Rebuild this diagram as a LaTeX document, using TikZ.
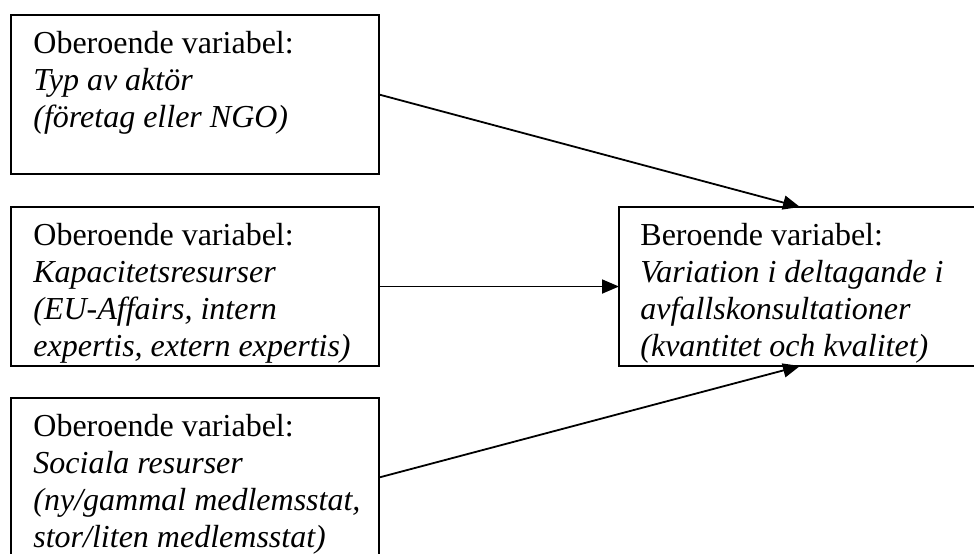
\documentclass[tikz,border=0pt]{standalone}
\usepackage{fontspec}
\setmainfont{Liberation Serif}
\usetikzlibrary{positioning, arrows.meta}

\begin{document}
\begin{tikzpicture}[
        x=0.5pt, y=-0.5pt,
        V/.style = {draw, black, line width=1pt, minimum width=184pt, minimum height=79.5pt, inner sep=0pt, outer sep=0pt},
        T/.style = {anchor=base west, align=left, inner sep=0pt, font=\fontsize{16}{18.5}\selectfont},
        arrow/.style = {-{Triangle[length=8.5pt, width=7pt]}, line width=0.9pt}
    ]
        \useasboundingbox (0,0) rectangle (974,553);
        \clip (0,0) rectangle (974,553);
        \node[V, anchor=north west] (V1) at (11,15) {};
        \node[V, below=16.5pt of V1] (V2) {};
        \node[V, below=16pt of V2] (V3) {};
        \node[V, minimum width=181pt, right=120pt of V2] (B) {};
        % base anchor sits on the last line
        \node[T] (T1) at ([shift={(22,112)}]V1.north west) {Oberoende variabel:\\ \textit{Typ av aktör}\\ \textit{(företag eller NGO)}};
        \begin{scope}
            \clip (V2.north west) rectangle (V2.south east);
            \node[T] (T2) at ([shift={(22,149)}]V2.north west) {Oberoende variabel:\\ \textit{Kapacitetsresurser}\\ \textit{(EU-Affairs, intern}\\ \textit{expertis, extern expertis)}};
        \end{scope}
        \node[T] (T3) at ([shift={(22,149)}]V3.north west) {Oberoende variabel:\\ \textit{Sociala resurser}\\ \textit{(ny/gammal medlemsstat,}\\ \textit{stor/liten medlemsstat)}};
        \begin{scope}
            \clip (B.north west) rectangle (B.south east);
            \node[T] (TB) at ([shift={(21,149)}]B.north west) {Beroende variabel:\\ \textit{Variation i deltagande i}\\ \textit{avfallskonsultationer}\\ \textit{(kvantitet och kvalitet)}};
        \end{scope}
        \draw[arrow] (V1.east) -- (B.north);
        \draw[arrow] (V2.east) -- (B.west);
        \draw[arrow] (V3.east) -- (B.south);
    \end{tikzpicture}
\end{document}
